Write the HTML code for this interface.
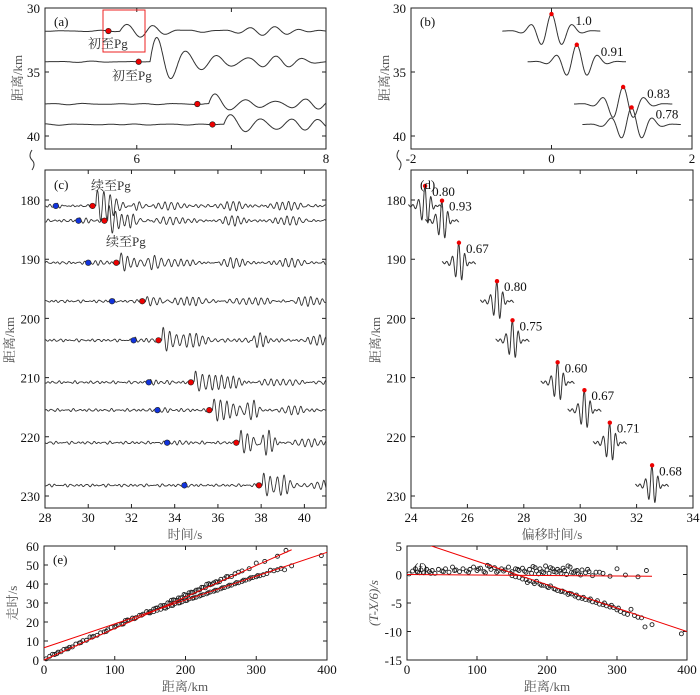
<!DOCTYPE html>
<html><head><meta charset="utf-8"><style>
html,body{margin:0;padding:0;background:#fff;}
svg{display:block;font-family:"Liberation Serif","Noto Serif CJK SC",serif;}
</style></head><body>
<svg id="fig" width="700" height="695" viewBox="0 0 700 695" xmlns="http://www.w3.org/2000/svg"></svg>
<script>
// ---------- data ----------
const aDist = [31.8, 34.2, 37.5, 39.1];
const aOnset = [5.70, 6.02, 6.64, 6.80];
const aAmp = [7, 28, 12, 12];
const bShift = [0.0, 0.36, 1.02, 1.14];
const bCoef = ["1.0", "0.91", "0.83", "0.78"];
const cDist = [181, 183.5, 190.6, 197.1, 203.7, 210.8, 215.5, 221, 228.2];
const cBlue = [28.5, 29.55, 30.0, 31.1, 32.1, 32.8, 33.2, 33.65, 34.45];
const cRed = [30.2, 30.75, 31.3, 32.5, 33.25, 34.75, 35.6, 36.85, 37.9];
const cAmp = [17, 15, 12, 5, 14, 12, 12, 12, 14];
const cLate = [32.3, 32.0, 33.0, 35.0, 37.9, 36.9, 37.6, 38.3, 39.0];
const cLateAmp = [6, 8, 5, 2, 10, 6, 10, 14, 8];
const dShift = [24.5, 25.1, 25.7, 27.05, 27.6, 29.2, 30.15, 31.05, 32.55];
const dCoef = ["0.80", "0.93", "0.67", "0.80", "0.75", "0.60", "0.67", "0.71", "0.68"];
const pgX = [3,8,12,15,20,24,28,32,36,40,45,50,55,60,65,70,75,80,85,90,95,100,105,110,115,120,125,130,135,140,145,150,155,160,165,170,175,180,185,190,195,200,205,210,215,220,225,230,235,240,245,250,255,260,265,270,280,290,300,312,330,342,
  18,34,52,68,88,102,112,118,128,138,148,158,168,178,183,188,193,198,203,208,213,218,223,228,233,238,243,248,258,275];
const pgR = [0.1,0.6,1.0,0.4,0.8,0.3,0.9,0.5,0.7,0.2,0.9,0.6,1.0,0.4,1.3,0.8,0.5,1.0,0.6,0.9,1.3,0.7,1.1,0.5,1.6,0.9,1.2,0.6,1.0,0.8,1.3,0.5,1.0,0.7,1.1,0.4,0.9,1.4,0.6,1.0,0.3,0.8,1.2,0.5,0.9,0.2,0.7,1.5,0.4,0.6,0.1,0.8,0.3,0.5,-0.2,0.4,0.2,-0.3,1.0,-0.1,-0.4,0.7,
  0.3,0.2,0.5,0.7,0.4,1.0,0.3,1.4,0.4,0.6,0.2,0.9,0.6,0.2,1.2,0.1,0.5,1.5,0.2,1.0,0.4,0.6,1.1,0.0,1.3,0.3,0.7,-0.1,0.9,0.4];
const pnX = [150,155,160,165,170,175,180,185,190,195,200,205,210,215,220,225,230,235,240,245,250,255,260,265,270,275,280,285,290,295,300,305,310,315,320,325,330,335,340,350,392,
  172,182,192,202,212,222,232,242,252,262,272,282,292,302];
const pnR = [-0.2,-0.4,-0.5,-0.8,-0.9,-1.1,-1.3,-1.2,-1.7,-1.9,-2.1,-2.0,-2.5,-2.8,-3.0,-3.1,-3.5,-3.4,-3.8,-4.1,-4.2,-4.4,-4.5,-4.8,-4.9,-5.2,-5.3,-5.5,-5.7,-5.8,-6.2,-6.5,-6.8,-7.0,-6.1,-7.2,-7.5,-7.6,-9.2,-8.8,-10.4,
  -1.4,-1.6,-1.9,-2.3,-2.6,-2.9,-3.3,-3.6,-4.0,-4.3,-4.6,-5.0,-5.4,-5.9];
const fitPg = [0, 0.0, 350, -0.3];
const fitPn = [0, 6.44, 400, -10.0];

// ---------- helpers ----------
const NS = "http://www.w3.org/2000/svg";
const svg = document.getElementById("fig");
function mk(tag, attrs, parent) {
  const e = document.createElementNS(NS, tag);
  for (const k in attrs) e.setAttribute(k, attrs[k]);
  (parent || svg).appendChild(e);
  return e;
}
function lin(d0, d1, r0, r1) { return v => r0 + (v - d0) / (d1 - d0) * (r1 - r0); }
function noise(t, s) {
  return Math.sin(t * 19.3 + s * 1.7) * 0.5 + Math.sin(t * 27.1 + s * 3.1) * 0.3 + Math.sin(t * 13.7 + s * 0.9) * 0.4;
}
function axes(name, L, T, R, B, xs, ys, xt, xl, yt, yl) {
  const g = mk("g", {});
  
  
  const fr = mk("rect", {x: L, y: T, width: R - L, height: B - T, fill: "none", stroke: "#222", "stroke-width": 1}, g);
  
  
  xt.forEach((v, i) => {
    const x = xs(v);
    const t1 = mk("path", {d: `M${x},${B}v-4M${x},${T}v4`, stroke: "#222", "stroke-width": 1}, g);
    
    
    if (xl[i] !== "") {
      const tx = mk("text", {x: x, y: B + 14, "text-anchor": "middle", "font-size": 13, fill: "#111"}, g);
      
      
      tx.textContent = xl[i];
    }
  });
  yt.forEach((v, i) => {
    const y = ys(v);
    const t1 = mk("path", {d: `M${L},${y}h4M${R},${y}h-4`, stroke: "#222", "stroke-width": 1}, g);
    
    
    const tx = mk("text", {x: L - 5, y: y + 5, "text-anchor": "end", "font-size": 13, fill: "#111"}, g);
    
    
    tx.textContent = yl[i];
  });
  return g;
}
function label(txt, x, y, opts) {
  const t = mk("text", Object.assign({x: x, y: y, "font-size": 13, fill: "#333"}, opts || {}));
  t.textContent = txt;
  return t;
}
function dot(x, y, color, r) {
  return mk("circle", {cx: x, cy: y, r: r || 2.8, fill: color, stroke: "#222", "stroke-width": 0.6});
}

// ---------- panel a ----------
const axX = lin(5.03, 8, 45, 326), axY = lin(30, 40, 8, 136);
axes("panel-a-axes", 45, 8, 326, 149, axX, axY, [6, 7, 8], ["6", "", "8"], [30, 35, 40], ["30", "35", "40"]);
aDist.forEach((d, i) => {
  let p = "";
  for (let t = 5.03; t <= 8; t += 0.005) {
    let v = noise(t, i) * 0.6;
    const dt = t - aOnset[i] - 0.12;
    if (dt > 0) v += aAmp[i] * Math.exp(-dt / 0.45) * Math.sin(dt * 2 * Math.PI * 3.2) + (2 + 2 * Math.sin(dt * 5 + i)) * Math.sin(dt * 24 + i) * Math.min(1, dt * 3);
    p += (p ? "L" : "M") + axX(t).toFixed(1) + "," + (axY(d) - v).toFixed(1);
  }
  const tr = mk("path", {d: p, fill: "none", stroke: "#333", "stroke-width": 1});
  
  
  const dt = dot(axX(aOnset[i]), axY(d), "#e00");
  
  
});
const box = mk("rect", {x: 103, y: 10, width: 42, height: 42, fill: "none", stroke: "#e22", "stroke-width": 1});


let l1 = label("初至Pg", 88, 48);  
let l2 = label("初至Pg", 112, 80);  
let pa = label("(a)", 54, 26, {fill: "#111"});  
let ya = label("距离/km", 22, 78, {"text-anchor": "middle", transform: "rotate(-90 22 78)", fill: "#555"});  

// ---------- panel b ----------
const bxX = lin(-2, 2, 411, 692);
axes("panel-b-axes", 411, 8, 692, 149, bxX, axY, [-2, 0, 2], ["-2", "0", "2"], [30, 35, 40], ["30", "35", "40"]);
bShift.forEach((s, i) => {
  const d = aDist[i];
  let p = "";
  for (let t = s - 0.7; t <= s + 0.7; t += 0.005) {
    const u = t - s;
    const v = 17 * Math.exp(-(u / 0.3) * (u / 0.3)) * Math.cos(u * 2 * Math.PI * 3.3);
    p += (p ? "L" : "M") + bxX(t).toFixed(1) + "," + (axY(d) - v).toFixed(1);
  }
  const tr = mk("path", {d: p, fill: "none", stroke: "#333", "stroke-width": 1});
  
  
  const dt = mk("circle", {cx: bxX(s), cy: axY(d) - 17, r: 2.2, fill: "#e00"});
  
  
  const cl = label(bCoef[i], bxX(s) + 24, axY(d) - 6, {fill: "#111"});
  
  
});
let pb = label("(b)", 420, 26, {fill: "#111"});  
let yb = label("距离/km", 389, 78, {"text-anchor": "middle", transform: "rotate(-90 389 78)", fill: "#555"});  

[30, 397].forEach(x => {
  const b = mk("path", {d: `M${x + 2},150 q-4,6 0,10 q4,4 0,10`, fill: "none", stroke: "#333", "stroke-width": 1});
  
  
});

// ---------- panel c ----------
const cxX = lin(28, 41, 45, 326), cyY = lin(180, 230, 200, 496);
axes("panel-c-axes", 45, 170, 326, 508, cxX, cyY, [28, 30, 32, 34, 36, 38, 40], ["28", "30", "32", "34", "36", "38", "40"], [180, 190, 200, 210, 220, 230], ["180", "190", "200", "210", "220", "230"]);
cDist.forEach((d, i) => {
  let p = "";
  for (let t = 28; t <= 41; t += 0.01) {
    let v = noise(t * 1.3, i + 2) * 1.4;
    const db = t - cBlue[i];
    if (db > 0) v += 2.5 * Math.exp(-db / 0.6) * Math.sin(db * 24);
    const dr = t - cRed[i] - 0.15;
    if (dr > 0) v += cAmp[i] * Math.exp(-dr / 0.8) * Math.sin(dr * 2 * Math.PI * 3.3) + (2 + 2 * Math.sin(dr * 2.3 + i)) * Math.sin(dr * 22 + i) * Math.min(1, dr * 2);
    const dl = t - cLate[i];
    v += cLateAmp[i] * Math.exp(-(dl / 0.35) * (dl / 0.35)) * Math.sin(dl * 22);
    p += (p ? "L" : "M") + cxX(t).toFixed(1) + "," + (cyY(d) - v).toFixed(1);
  }
  const tr = mk("path", {d: p, fill: "none", stroke: "#333", "stroke-width": 0.9});
  
  
  const b = dot(cxX(cBlue[i]), cyY(d), "#1133dd");
  
  
  const r = dot(cxX(cRed[i]), cyY(d), "#e00");
  
  
});
let l3 = label("续至Pg", 91, 190);  
let l4 = label("续至Pg", 106, 246);  
let pc = label("(c)", 54, 189, {fill: "#111"});  
let yc = label("距离/km", 14, 340, {"text-anchor": "middle", transform: "rotate(-90 14 340)", fill: "#555"});  
let xc = label("时间/s", 185, 539, {"text-anchor": "middle", fill: "#555"});  

// ---------- panel d ----------
const dxX = lin(24, 34, 411, 693);
axes("panel-d-axes", 411, 170, 693, 508, dxX, cyY, [24, 26, 28, 30, 32, 34], ["24", "26", "28", "30", "32", "34"], [180, 190, 200, 210, 220, 230], ["180", "190", "200", "210", "220", "230"]);
dShift.forEach((s, i) => {
  const d = cDist[i];
  let p = "";
  for (let t = s - 0.6; t <= s + 0.6; t += 0.005) {
    const u = t - s;
    const v = 20 * Math.exp(-(u / 0.22) * (u / 0.22)) * Math.cos(u * 2 * Math.PI * 4.5 + 0.3) + 1 * Math.sin(u * 40);
    p += (p ? "L" : "M") + dxX(t).toFixed(1) + "," + (cyY(d) - v).toFixed(1);
  }
  const tr = mk("path", {d: p, fill: "none", stroke: "#333", "stroke-width": 1});
  
  
  const dt = mk("circle", {cx: dxX(s), cy: cyY(d) - 20, r: 2.2, fill: "#e00"});
  
  
  const cl = label(dCoef[i], dxX(s) + 7, cyY(d) - 10, {fill: "#111"});
  
  
});
let pd = label("(d)", 420, 189, {fill: "#111"});  
let yd = label("距离/km", 380, 340, {"text-anchor": "middle", transform: "rotate(-90 380 340)", fill: "#555"});  
let xd = label("偏移时间/s", 552, 539, {"text-anchor": "middle", fill: "#555"});  

// ---------- panel e ----------
const exX = lin(0, 400, 44, 327), eyY = lin(0, 60, 660, 546);
axes("panel-e-axes", 44, 546, 327, 660, exX, eyY, [0, 100, 200, 300, 400], ["0", "100", "200", "300", "400"], [0, 10, 20, 30, 40, 50, 60], ["0", "10", "20", "30", "40", "50", "60"]);
pgX.forEach((x, i) => {
  const c = mk("circle", {cx: exX(x), cy: eyY(x / 6 + pgR[i]), r: 2, fill: "none", stroke: "#222", "stroke-width": 0.9});
  
  
});
pnX.forEach((x, i) => {
  const c = mk("circle", {cx: exX(x), cy: eyY(x / 6 + pnR[i]), r: 2, fill: "none", stroke: "#222", "stroke-width": 0.9});
  
  
});
[fitPg, fitPn].forEach((f, k) => {
  const ln = mk("line", {x1: exX(f[0]), y1: eyY(f[0] / 6 + f[1]), x2: exX(f[2]), y2: eyY(f[2] / 6 + f[3]), stroke: "#e00", "stroke-width": 1});
  
  
});
let pe = label("(e)", 53, 564, {fill: "#111"});  
let ye = label("走时/s", 17, 603, {"text-anchor": "middle", transform: "rotate(-90 17 603)", fill: "#555"});  
let xe = label("距离/km", 185, 691, {"text-anchor": "middle", fill: "#555"});  

// ---------- panel f ----------
const fxX = lin(0, 400, 407, 687), fyY = lin(-15, 5, 660, 546);
axes("panel-f-axes", 407, 546, 687, 660, fxX, fyY, [0, 100, 200, 300, 400], ["0", "100", "200", "300", "400"], [-15, -10, -5, 0, 5], ["-15", "-10", "-5", "0", "5"]);
pgX.forEach((x, i) => {
  const c = mk("circle", {cx: fxX(x), cy: fyY(pgR[i]), r: 2, fill: "none", stroke: "#222", "stroke-width": 0.9});
  
  
});
pnX.forEach((x, i) => {
  const c = mk("circle", {cx: fxX(x), cy: fyY(pnR[i]), r: 2, fill: "none", stroke: "#222", "stroke-width": 0.9});
  
  
});
const clipF = mk("clipPath", {id: "clipf"});
mk("rect", {x: 407, y: 546, width: 280, height: 114}, clipF);
[fitPg, fitPn].forEach((f, k) => {
  const ln = mk("line", {x1: fxX(f[0]), y1: fyY(f[1]), x2: fxX(f[2]), y2: fyY(f[3]), stroke: "#e00", "stroke-width": 1, "clip-path": "url(#clipf)"});
  
  
});
let pf = label("(f)", 414, 572, {fill: "#111"});  
let yf = label("(T-X/6)/s", 378, 603, {"text-anchor": "middle", transform: "rotate(-90 378 603)", fill: "#555", "font-style": "italic"});  
let xf = label("距离/km", 547, 691, {"text-anchor": "middle", fill: "#555"});  
</script>
</body></html>
